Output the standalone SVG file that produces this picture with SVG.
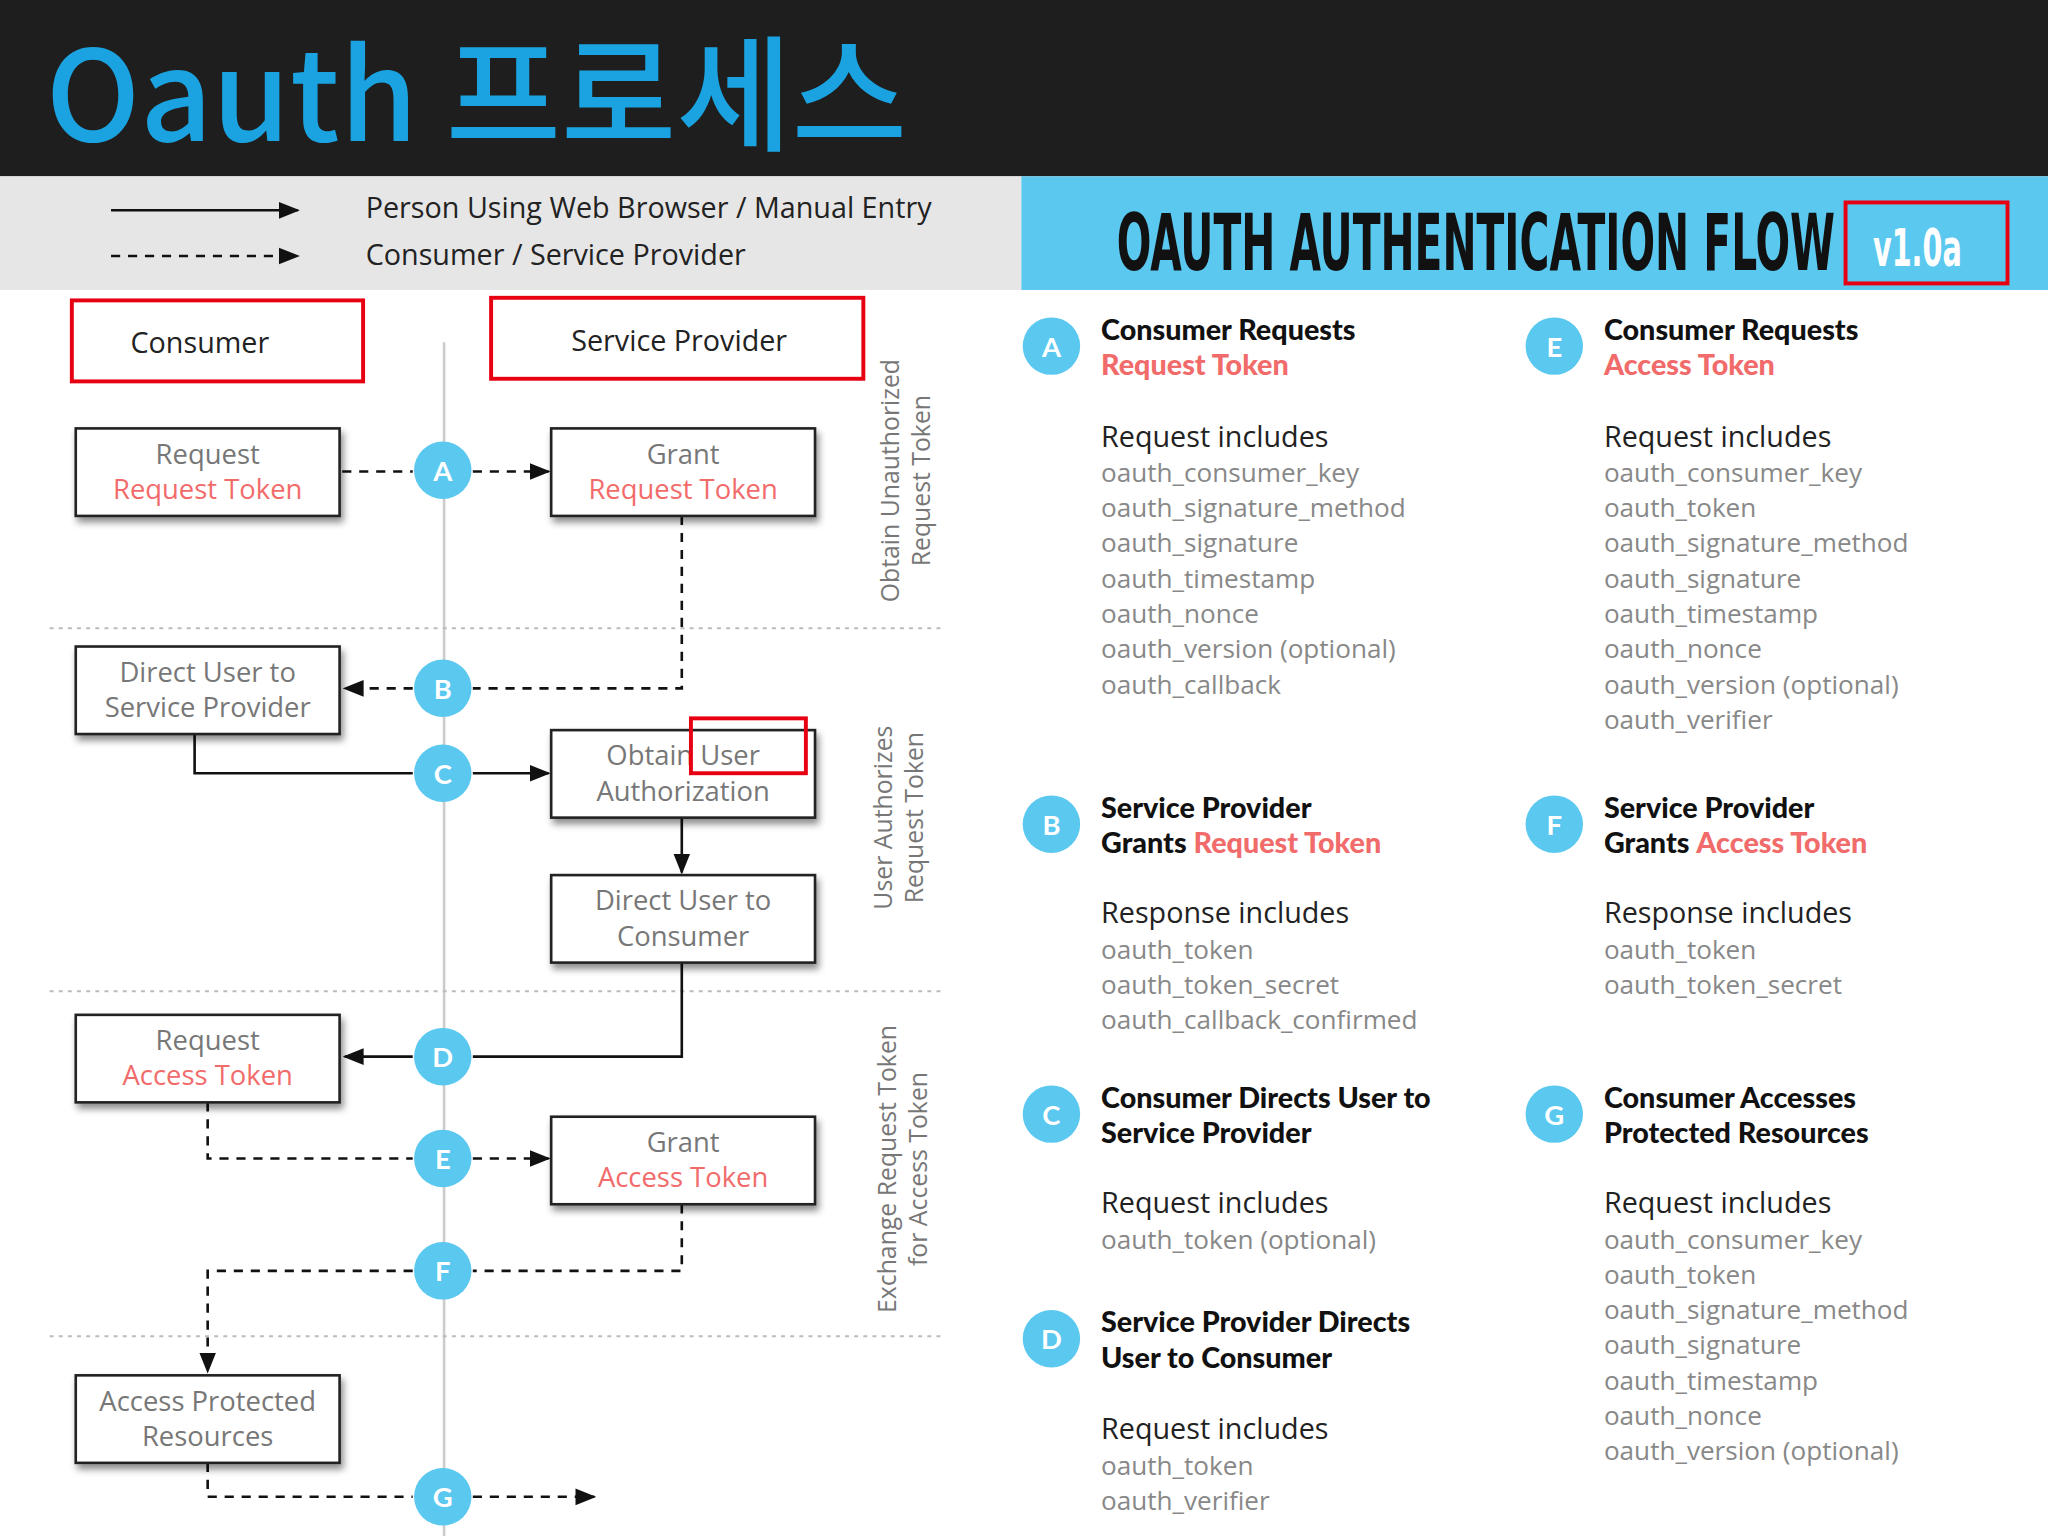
<svg xmlns="http://www.w3.org/2000/svg" width="2048" height="1536" viewBox="0 0 2048 1536">
<defs>
<marker id="ar" viewBox="0 0 10 10" refX="9" refY="5" markerWidth="16" markerHeight="16" markerUnits="userSpaceOnUse" orient="auto"><path d="M0,1 L10,5 L0,9 z" fill="#111"/></marker>
<filter id="sh" x="-10%" y="-10%" width="130%" height="140%"><feDropShadow dx="2" dy="4" stdDeviation="3" flood-color="#000" flood-opacity="0.45"/></filter>
</defs>
<style>
.box{fill:#fff;stroke:#222;stroke-width:2;filter:url(#sh)}
.nt{font-family:"Open Sans",sans-serif;font-size:21px;fill:#777;text-anchor:middle}
.rt{fill:#f26b6b}
.c{fill:#5bc8f0}
.cl{font-family:"Lato",sans-serif;font-weight:bold;font-size:21px;fill:#fff;text-anchor:middle}
.s{fill:none;stroke:#111;stroke-width:2}
.d{fill:none;stroke:#111;stroke-width:2;stroke-dasharray:7,6}
.sep{stroke:#bbb;stroke-width:1.5;stroke-dasharray:3,4}
.h{font-family:"Lato",sans-serif;font-weight:900;font-size:22px;fill:#111}
.sub{font-family:"Open Sans",sans-serif;font-size:22px;fill:#222}
.p{font-family:"Open Sans",sans-serif;font-size:20px;fill:#888}
.rot{font-family:"Open Sans",sans-serif;font-size:19px;fill:#777;text-anchor:middle}
.hl{fill:none;stroke:#e60012;stroke-width:3}
</style>
<g transform="scale(1.30612)">
<rect x="0" y="0" width="1568" height="1176" fill="#fff"/>
<rect x="0" y="0" width="1568" height="135" fill="#1e1e1e"/>
<text x="35" y="108" font-family="Noto Sans CJK KR, Noto Sans, sans-serif" font-size="96" font-weight="500" fill="#1aa3e0">Oauth 프로세스</text>
<rect x="0" y="135" width="782" height="87" fill="#e6e6e6"/>
<rect x="782" y="135" width="786" height="87" fill="#5bc8f0"/>
<text x="855" y="207" font-family="DejaVu Sans Condensed, sans-serif" font-weight="bold" font-size="60" fill="#111" textLength="550" lengthAdjust="spacingAndGlyphs">OAUTH AUTHENTICATION FLOW</text>
<rect x="1413" y="155" width="124" height="62" class="hl"/>
<text x="1468" y="204" font-family="DejaVu Sans Condensed, sans-serif" font-weight="bold" font-size="40" fill="#fff" text-anchor="middle" textLength="68" lengthAdjust="spacingAndGlyphs">v1.0a</text>
<g id="legend">
<line x1="85" y1="161" x2="228" y2="161" class="s" marker-end="url(#ar)"/>
<line x1="85" y1="196" x2="228" y2="196" class="d" marker-end="url(#ar)"/>
<text x="280" y="167" class="sub" font-size="20">Person Using Web Browser / Manual Entry</text>
<text x="280" y="203" class="sub" font-size="20">Consumer / Service Provider</text>
</g>
<line x1="340" y1="262" x2="340" y2="1176" stroke="#ccc" stroke-width="2"/>
<line x1="38" y1="481" x2="720" y2="481" class="sep"/>
<line x1="38" y1="759" x2="720" y2="759" class="sep"/>
<line x1="38" y1="1023" x2="720" y2="1023" class="sep"/>
<g id="hdr-consumer"><rect x="55" y="230" width="223" height="62" class="hl"/><text x="153" y="270" class="sub" font-size="31" text-anchor="middle">Consumer</text></g>
<g id="hdr-sp"><rect x="376" y="228" width="285" height="62" class="hl"/><text x="520" y="269" class="sub" font-size="31" text-anchor="middle">Service Provider</text></g>
<g id="connectors">
<path d="M262,361 H316 M362,361 H420" class="d" marker-end="url(#ar)"/>
<path d="M522,395 V527 H362 M316,527 H264" class="d" marker-end="url(#ar)"/>
<path d="M149,562 V592 H316 M362,592 H420" class="s" marker-end="url(#ar)"/>
<path d="M522,626 V668" class="s" marker-end="url(#ar)"/>
<path d="M522,737 V809 H362 M316,809 H264" class="s" marker-end="url(#ar)"/>
<path d="M159,844 V887 H316 M362,887 H420" class="d" marker-end="url(#ar)"/>
<path d="M522,922 V973 H362 M316,973 H159 V1050" class="d" marker-end="url(#ar)"/>
<path d="M159,1120 V1146 H316 M362,1146 H455" class="d" marker-end="url(#ar)"/>
</g>
<g id="n1"><rect x="58" y="328" width="202" height="67" class="box"/><text x="159" y="355" class="nt">Request</text><text x="159" y="382" class="nt" style="fill:#f26b6b">Request Token</text></g>
<g id="n2"><rect x="422" y="328" width="202" height="67" class="box"/><text x="523" y="355" class="nt">Grant</text><text x="523" y="382" class="nt" style="fill:#f26b6b">Request Token</text></g>
<g id="n3"><rect x="58" y="495" width="202" height="67" class="box"/><text x="159" y="522" class="nt">Direct User to</text><text x="159" y="549" class="nt">Service Provider</text></g>
<g id="n4"><rect x="422" y="559" width="202" height="67" class="box"/><text x="523" y="586" class="nt">Obtain User</text><text x="523" y="613" class="nt">Authorization</text></g>
<g id="n5"><rect x="422" y="670" width="202" height="67" class="box"/><text x="523" y="697" class="nt">Direct User to</text><text x="523" y="724" class="nt">Consumer</text></g>
<g id="n6"><rect x="58" y="777" width="202" height="67" class="box"/><text x="159" y="804" class="nt">Request</text><text x="159" y="831" class="nt" style="fill:#f26b6b">Access Token</text></g>
<g id="n7"><rect x="422" y="855" width="202" height="67" class="box"/><text x="523" y="882" class="nt">Grant</text><text x="523" y="909" class="nt" style="fill:#f26b6b">Access Token</text></g>
<g id="n8"><rect x="58" y="1053" width="202" height="67" class="box"/><text x="159" y="1080" class="nt">Access Protected</text><text x="159" y="1107" class="nt">Resources</text></g>
<rect x="529" y="550" width="88" height="42" class="hl"/>
<g id="steps">
<circle cx="339" cy="360" r="22" class="c"/><text x="339" y="368" class="cl">A</text>
<circle cx="339" cy="527" r="22" class="c"/><text x="339" y="535" class="cl">B</text>
<circle cx="339" cy="592" r="22" class="c"/><text x="339" y="600" class="cl">C</text>
<circle cx="339" cy="809" r="22" class="c"/><text x="339" y="817" class="cl">D</text>
<circle cx="339" cy="887" r="22" class="c"/><text x="339" y="895" class="cl">E</text>
<circle cx="339" cy="973" r="22" class="c"/><text x="339" y="981" class="cl">F</text>
<circle cx="339" cy="1146" r="22" class="c"/><text x="339" y="1154" class="cl">G</text>
</g>
<g id="phases">
<text transform="translate(688,368) rotate(-90)" class="rot">Obtain Unauthorized</text>
<text transform="translate(712,368) rotate(-90)" class="rot">Request Token</text>
<text transform="translate(683,626) rotate(-90)" class="rot">User Authorizes</text>
<text transform="translate(707,626) rotate(-90)" class="rot">Request Token</text>
<text transform="translate(686,895) rotate(-90)" class="rot">Exchange Request Token</text>
<text transform="translate(710,895) rotate(-90)" class="rot">for Access Token</text>
</g>
<g id="details">
<circle cx="805" cy="265" r="22" class="c"/><text x="805" y="273" class="cl">A</text>
<text x="843" y="260" class="h">Consumer Requests</text><text x="843" y="287" class="h" style="fill:#f26b6b">Request Token</text>
<text x="843" y="342" class="sub">Request includes</text>
<text class="p" x="843" y="369">oauth_consumer_key</text><text class="p" x="843" y="396">oauth_signature_method</text><text class="p" x="843" y="423">oauth_signature</text><text class="p" x="843" y="450">oauth_timestamp</text><text class="p" x="843" y="477">oauth_nonce</text><text class="p" x="843" y="504">oauth_version (optional)</text><text class="p" x="843" y="531">oauth_callback</text>

<circle cx="805" cy="631" r="22" class="c"/><text x="805" y="639" class="cl">B</text>
<text x="843" y="626" class="h">Service Provider</text><text x="843" y="653" class="h">Grants <tspan style="fill:#f26b6b">Request Token</tspan></text>
<text x="843" y="707" class="sub">Response includes</text>
<text class="p" x="843" y="734">oauth_token</text><text class="p" x="843" y="761">oauth_token_secret</text><text class="p" x="843" y="788">oauth_callback_confirmed</text>

<circle cx="805" cy="853" r="22" class="c"/><text x="805" y="861" class="cl">C</text>
<text x="843" y="848" class="h">Consumer Directs User to</text><text x="843" y="875" class="h">Service Provider</text>
<text x="843" y="929" class="sub">Request includes</text>
<text class="p" x="843" y="956">oauth_token (optional)</text>

<circle cx="805" cy="1025" r="22" class="c"/><text x="805" y="1033" class="cl">D</text>
<text x="843" y="1020" class="h">Service Provider Directs</text><text x="843" y="1047" class="h">User to Consumer</text>
<text x="843" y="1102" class="sub">Request includes</text>
<text class="p" x="843" y="1129">oauth_token</text><text class="p" x="843" y="1156">oauth_verifier</text>

<circle cx="1190" cy="265" r="22" class="c"/><text x="1190" y="273" class="cl">E</text>
<text x="1228" y="260" class="h">Consumer Requests</text><text x="1228" y="287" class="h" style="fill:#f26b6b">Access Token</text>
<text x="1228" y="342" class="sub">Request includes</text>
<text class="p" x="1228" y="369">oauth_consumer_key</text><text class="p" x="1228" y="396">oauth_token</text><text class="p" x="1228" y="423">oauth_signature_method</text><text class="p" x="1228" y="450">oauth_signature</text><text class="p" x="1228" y="477">oauth_timestamp</text><text class="p" x="1228" y="504">oauth_nonce</text><text class="p" x="1228" y="531">oauth_version (optional)</text><text class="p" x="1228" y="558">oauth_verifier</text>

<circle cx="1190" cy="631" r="22" class="c"/><text x="1190" y="639" class="cl">F</text>
<text x="1228" y="626" class="h">Service Provider</text><text x="1228" y="653" class="h">Grants <tspan style="fill:#f26b6b">Access Token</tspan></text>
<text x="1228" y="707" class="sub">Response includes</text>
<text class="p" x="1228" y="734">oauth_token</text><text class="p" x="1228" y="761">oauth_token_secret</text>

<circle cx="1190" cy="853" r="22" class="c"/><text x="1190" y="861" class="cl">G</text>
<text x="1228" y="848" class="h">Consumer Accesses</text><text x="1228" y="875" class="h">Protected Resources</text>
<text x="1228" y="929" class="sub">Request includes</text>
<text class="p" x="1228" y="956">oauth_consumer_key</text><text class="p" x="1228" y="983">oauth_token</text><text class="p" x="1228" y="1010">oauth_signature_method</text><text class="p" x="1228" y="1037">oauth_signature</text><text class="p" x="1228" y="1064">oauth_timestamp</text><text class="p" x="1228" y="1091">oauth_nonce</text><text class="p" x="1228" y="1118">oauth_version (optional)</text>
</g>
</g>
</svg>
